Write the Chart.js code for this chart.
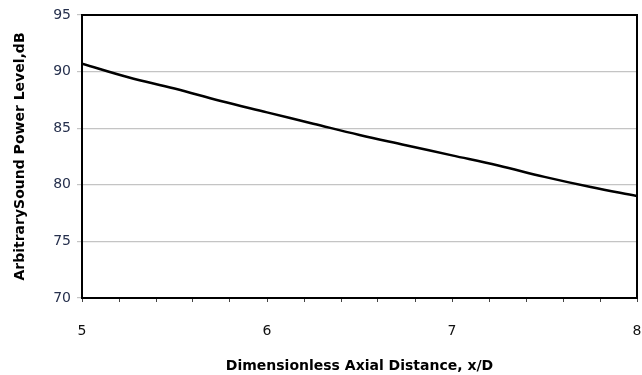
<!DOCTYPE html>
<html>
<head>
<meta charset="utf-8">
<script src="https://cdn.jsdelivr.net/npm/chart.js@4"></script>
<style>
  html, body { margin: 0; padding: 0; background: #fff; }
  #wrap { width: 642px; height: 375px; }
</style>
</head>
<body>
<div id="wrap"><canvas id="g-sound"></canvas></div>
<script>
// x/D positions and sound power level
const distance = [5.0, 5.25, 5.5, 5.75, 6.0, 6.25, 6.5, 6.75, 7.0, 7.25, 7.5, 7.75, 8.0];
const powerLevel = [90.7, 89.5, 88.5, 87.4, 86.4, 85.4, 84.4, 83.5, 82.6, 81.7, 80.7, 79.8, 79.0];
const yTicks = [70, 75, 80, 85, 90, 95];
const xTicks = [5, 6, 7, 8];

const points = distance.map((x, i) => ({ x: x, y: powerLevel[i] }));

// black frame round the plot area
const frame = {
    id: 'frame',
    afterDraw(chart) {
        const { ctx, chartArea: a } = chart;
        ctx.save();
        ctx.strokeStyle = '#000';
        ctx.lineWidth = 2;
        ctx.strokeRect(a.left, a.top, a.right - a.left, a.bottom - a.top);
        ctx.restore();
    }
};

const isMajor = v => xTicks.some(t => Math.abs(t - v) < 1e-6);

const ctx = document.getElementById('g-sound').getContext('2d');
new Chart(ctx, {
    type: 'line',
    data: {
        datasets: [{
            data: points,
            borderColor: '#000',
            borderWidth: 2.5,
            pointRadius: 0,
            tension: 0.4,
            fill: false
        }]
    },
    options: {
        responsive: true,
        maintainAspectRatio: false,
        animation: false,
        layout: { padding: { top: 15, right: 5, left: 0, bottom: 0 } },
        plugins: {
            legend: { display: false },
            tooltip: { enabled: false }
        },
        scales: {
            x: {
                type: 'linear',
                min: 5,
                max: 8,
                ticks: {
                    stepSize: 0.2,
                    autoSkip: false,
                    maxRotation: 0,
                    padding: 21,
                    color: '#111',
                    font: { family: 'DejaVu Sans', size: 14 },
                    callback: v => isMajor(v) ? String(Math.round(v)) : ''
                },
                grid: {
                    drawOnChartArea: false,
                    tickLength: 4,
                    color: '#444'
                },
                border: { color: '#000', width: 2 },
                title: {
                    display: true,
                    text: 'Dimensionless Axial Distance, x/D',
                    color: '#000',
                    font: { family: 'DejaVu Sans', size: 14, weight: 'bold' },
                    padding: { top: 10, bottom: 0 }
                },
                afterFit: s => {
                    s.height = 77;
                    s.paddingLeft = 0;
                    s.paddingRight = 0;
                }
            },
            y: {
                min: 70,
                max: 95,
                afterBuildTicks: s => { s.ticks = yTicks.map(v => ({ value: v })); },
                ticks: {
                    padding: 6,
                    color: '#26304d',
                    font: { family: 'DejaVu Sans', size: 14 }
                },
                grid: {
                    color: '#c4c4c4',
                    lineWidth: 1.2,
                    tickLength: 5
                },
                border: { color: '#000', width: 2 },
                title: {
                    display: true,
                    text: 'ArbitrarySound Power Level,dB',
                    color: '#000',
                    font: { family: 'DejaVu Sans', size: 14, weight: 'bold' },
                    padding: { top: 12, bottom: 0 }
                },
                afterFit: s => { s.width = 82; }
            }
        }
    },
    plugins: [frame]
});
</script>
</body>
</html>
